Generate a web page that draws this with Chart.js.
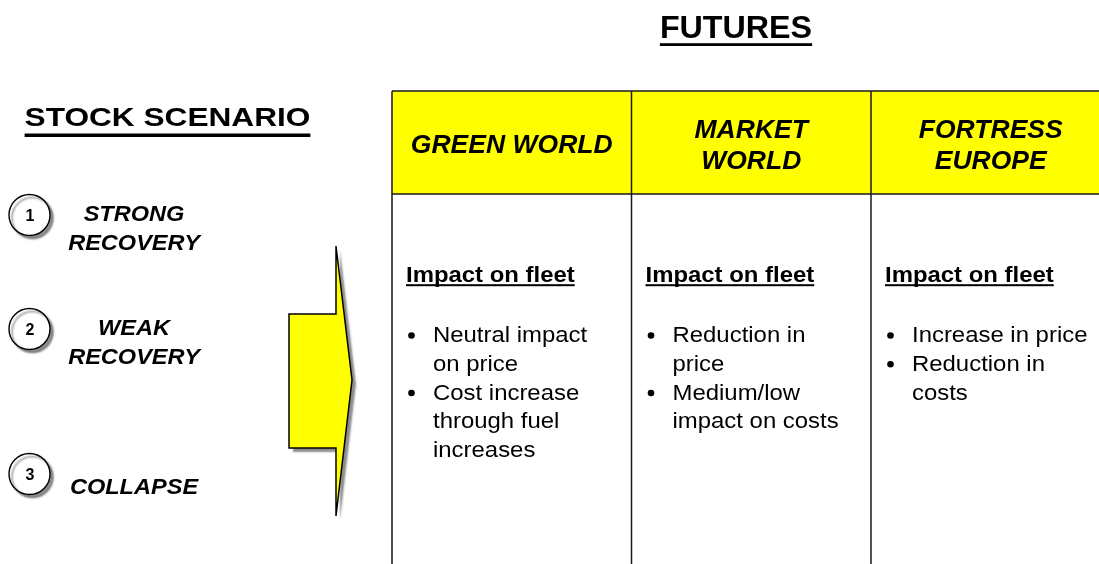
<!DOCTYPE html>
<html>
<head>
<meta charset="utf-8">
<script src="https://cdn.jsdelivr.net/npm/chart.js@4.4.1/dist/chart.umd.min.js"></script>
<style>
html,body{margin:0;padding:0;background:#ffffff;}
#wrap{width:1099px;height:564px;position:relative;}
</style>
</head>
<body>
<div id="wrap"><canvas id="c" width="1099" height="564"></canvas></div>
<script>
// ---------------- DATA ----------------
const futuresTitle = 'FUTURES';
const scenarioTitle = 'STOCK SCENARIO';
const futureNames = ['GREEN WORLD', 'MARKET\nWORLD', 'FORTRESS\nEUROPE'];
const impactHeading = 'Impact on fleet';
const greenWorldImpacts = ['Neutral impact on price', 'Cost increase through fuel increases'];
const marketWorldImpacts = ['Reduction in price', 'Medium/low impact on costs'];
const fortressEuropeImpacts = ['Increase in price', 'Reduction in costs'];
const scenarioNumbers = ['1', '2', '3'];
const scenarioNames = ['STRONG\nRECOVERY', 'WEAK\nRECOVERY', 'COLLAPSE'];

// ---------------- LAYOUT / STYLE ----------------
const FONT = '"Liberation Sans", Arial, Helvetica, sans-serif';
const YELLOW = '#FFFF00';
const LINE = '#1a1a1a';
const L = {
  futuresTitle: {x: 736, y: 38, size: 31, stretch: 1.04, ulOff: 5.2, ulW: 2.8},
  scenarioTitle: {x: 167.5, y: 126, size: 25.5, stretch: 1.24, ulOff: 7.5, ulW: 3.5},
  table: {left: 392, top: 91, headBottom: 194, bottom: 566, colW: 239.5, lw: 1.5},
  header: {size: 26, stretch: 1.02, base: 153, lineGap: 31},
  impact: {headX: 14, headY: 282, size: 22, stretch: 1.087, bulletX: 19.5, textX: 41, firstY: 342, lineGap: 28.75, wrapW: 181},
  circles: {x: 29.5, r: 20.5, ys: [215, 329, 474], numSize: 16},
  labels: {x: 134, size: 22, stretch: 1.07, base: [221, 335, 494], lineGap: 28.5},
  arrow: {left: 289, stem: 336, tip: 352, bodyTop: 314, bodyBottom: 448, top: 246, bottom: 516, mid: 380}
};
const futureImpacts = [greenWorldImpacts, marketWorldImpacts, fortressEuropeImpacts];

function txt(ctx, s, x, y, font, stretch, align) {
  ctx.save();
  ctx.font = font;
  ctx.textAlign = align || 'left';
  ctx.textBaseline = 'alphabetic';
  ctx.translate(x, y);
  ctx.scale(stretch, 1);
  ctx.fillText(s, 0, 0);
  const w = ctx.measureText(s).width * stretch;
  ctx.restore();
  return w;
}
function measure(ctx, s, font, stretch) {
  ctx.save(); ctx.font = font; const w = ctx.measureText(s).width * stretch; ctx.restore(); return w;
}
function wrap(ctx, s, font, stretch, maxW) {
  const words = s.split(' '); const lines = []; let cur = '';
  words.forEach(w => {
    const t = cur ? cur + ' ' + w : w;
    if (cur && measure(ctx, t, font, stretch) > maxW) { lines.push(cur); cur = w; } else cur = t;
  });
  if (cur) lines.push(cur);
  return lines;
}

const diagramPlugin = {
  id: 'diagram',
  beforeDatasetsDraw(chart) {
    const ctx = chart.ctx;
    const X = v => chart.scales.x.getPixelForValue(v);
    const Y = v => chart.scales.y.getPixelForValue(v);
    const t = L.table;
    ctx.save();
    ctx.fillStyle = YELLOW;
    ctx.fillRect(X(t.left), Y(t.top), X(t.left + t.colW * futureNames.length) - X(t.left), Y(t.headBottom) - Y(t.top));
    ctx.strokeStyle = LINE; ctx.lineWidth = t.lw;
    ctx.beginPath();
    ctx.moveTo(X(t.left), Y(t.top)); ctx.lineTo(X(t.left + t.colW * futureNames.length), Y(t.top));
    ctx.moveTo(X(t.left), Y(t.headBottom)); ctx.lineTo(X(t.left + t.colW * futureNames.length), Y(t.headBottom));
    for (let i = 0; i <= futureNames.length; i++) {
      ctx.moveTo(X(t.left + t.colW * i), Y(t.top)); ctx.lineTo(X(t.left + t.colW * i), Y(t.bottom));
    }
    ctx.stroke();
    ctx.restore();

    const a = L.arrow;
    ctx.save();
    ctx.beginPath();
    ctx.moveTo(X(a.left), Y(a.bodyTop));
    ctx.lineTo(X(a.stem), Y(a.bodyTop));
    ctx.lineTo(X(a.stem), Y(a.top));
    ctx.lineTo(X(a.tip), Y(a.mid));
    ctx.lineTo(X(a.stem), Y(a.bottom));
    ctx.lineTo(X(a.stem), Y(a.bodyBottom));
    ctx.lineTo(X(a.left), Y(a.bodyBottom));
    ctx.closePath();
    ctx.shadowColor = 'rgba(0,0,0,0.45)';
    ctx.shadowOffsetX = 4; ctx.shadowOffsetY = 4; ctx.shadowBlur = 2;
    ctx.fillStyle = YELLOW; ctx.fill();
    ctx.shadowColor = 'rgba(0,0,0,0)';
    ctx.strokeStyle = '#000'; ctx.lineWidth = 1.5; ctx.lineJoin = 'miter'; ctx.stroke();
    ctx.restore();
  },
  beforeDatasetDraw(chart) {
    const ctx = chart.ctx;
    ctx.save();
    ctx.shadowColor = 'rgba(0,0,0,0.45)';
    ctx.shadowOffsetX = 3; ctx.shadowOffsetY = 3; ctx.shadowBlur = 2;
  },
  afterDatasetDraw(chart) {
    chart.ctx.restore();
  },
  afterDatasetsDraw(chart) {
    const ctx = chart.ctx;
    const X = v => chart.scales.x.getPixelForValue(v);
    const Y = v => chart.scales.y.getPixelForValue(v);
    ctx.save();
    ctx.fillStyle = '#000';
    const ft = L.futuresTitle;
    let f = 'bold ' + ft.size + 'px ' + FONT;
    let w = txt(ctx, futuresTitle, X(ft.x), Y(ft.y), f, ft.stretch, 'center');
    ctx.fillRect(X(ft.x) - w / 2, Y(ft.y + ft.ulOff), w, ft.ulW);
    const st = L.scenarioTitle;
    f = 'bold ' + st.size + 'px ' + FONT;
    w = txt(ctx, scenarioTitle, X(st.x), Y(st.y), f, st.stretch, 'center');
    ctx.fillRect(X(st.x) - w / 2, Y(st.y + st.ulOff), w, st.ulW);

    const t = L.table, h = L.header;
    f = 'italic bold ' + h.size + 'px ' + FONT;
    futureNames.forEach((name, i) => {
      const lines = name.split('\n');
      const cx = t.left + t.colW * (i + 0.5);
      const y0 = h.base - (lines.length - 1) * h.lineGap / 2;
      lines.forEach((ln, j) => txt(ctx, ln, X(cx), Y(y0 + j * h.lineGap), f, h.stretch, 'center'));
    });

    const im = L.impact;
    const fb = 'bold ' + im.size + 'px ' + FONT;
    const fr = im.size + 'px ' + FONT;
    futureImpacts.forEach((items, i) => {
      const x0 = t.left + t.colW * i;
      w = txt(ctx, impactHeading, X(x0 + im.headX), Y(im.headY), fb, im.stretch, 'left');
      ctx.fillRect(X(x0 + im.headX), Y(im.headY + 2.2), w, 2);
      let k = 0;
      items.forEach(item => {
        const lines = wrap(ctx, item, fr, im.stretch, im.wrapW);
        const by = im.firstY + k * im.lineGap;
        ctx.beginPath();
        ctx.arc(X(x0 + im.bulletX), Y(by - 6.5), 3.3, 0, Math.PI * 2);
        ctx.fill();
        lines.forEach(ln => {
          txt(ctx, ln, X(x0 + im.textX), Y(im.firstY + k * im.lineGap), fr, im.stretch, 'left');
          k++;
        });
      });
    });

    const c = L.circles, lb = L.labels;
    const fn = 'bold ' + c.numSize + 'px ' + FONT;
    const fl = 'italic bold ' + lb.size + 'px ' + FONT;
    scenarioNumbers.forEach((n, i) => {
      txt(ctx, n, X(c.x + 0.5), Y(c.ys[i] + 6), fn, 1, 'center');
      const lines = scenarioNames[i].split('\n');
      lines.forEach((ln, j) => txt(ctx, ln, X(lb.x), Y(lb.base[i] + j * lb.lineGap), fl, lb.stretch, 'center'));
    });
    ctx.restore();
  }
};

new Chart(document.getElementById('c'), {
  type: 'scatter',
  data: {
    datasets: [{
      label: 'Stock scenarios',
      data: scenarioNumbers.map((n, i) => ({x: L.circles.x, y: L.circles.ys[i]})),
      pointRadius: L.circles.r,
      pointHoverRadius: L.circles.r,
      pointBackgroundColor: '#ffffff',
      pointBorderColor: '#000000',
      pointBorderWidth: 1.4,
      pointStyle: 'circle'
    }]
  },
  options: {
    responsive: false,
    animation: false,
    events: [],
    layout: {padding: 0, autoPadding: false},
    clip: false,
    scales: {
      x: {type: 'linear', min: 0, max: 1099, display: false},
      y: {type: 'linear', min: 0, max: 564, reverse: true, display: false}
    },
    plugins: {legend: {display: false}, tooltip: {enabled: false}, title: {display: false}}
  },
  plugins: [diagramPlugin]
});
</script>
</body>
</html>
